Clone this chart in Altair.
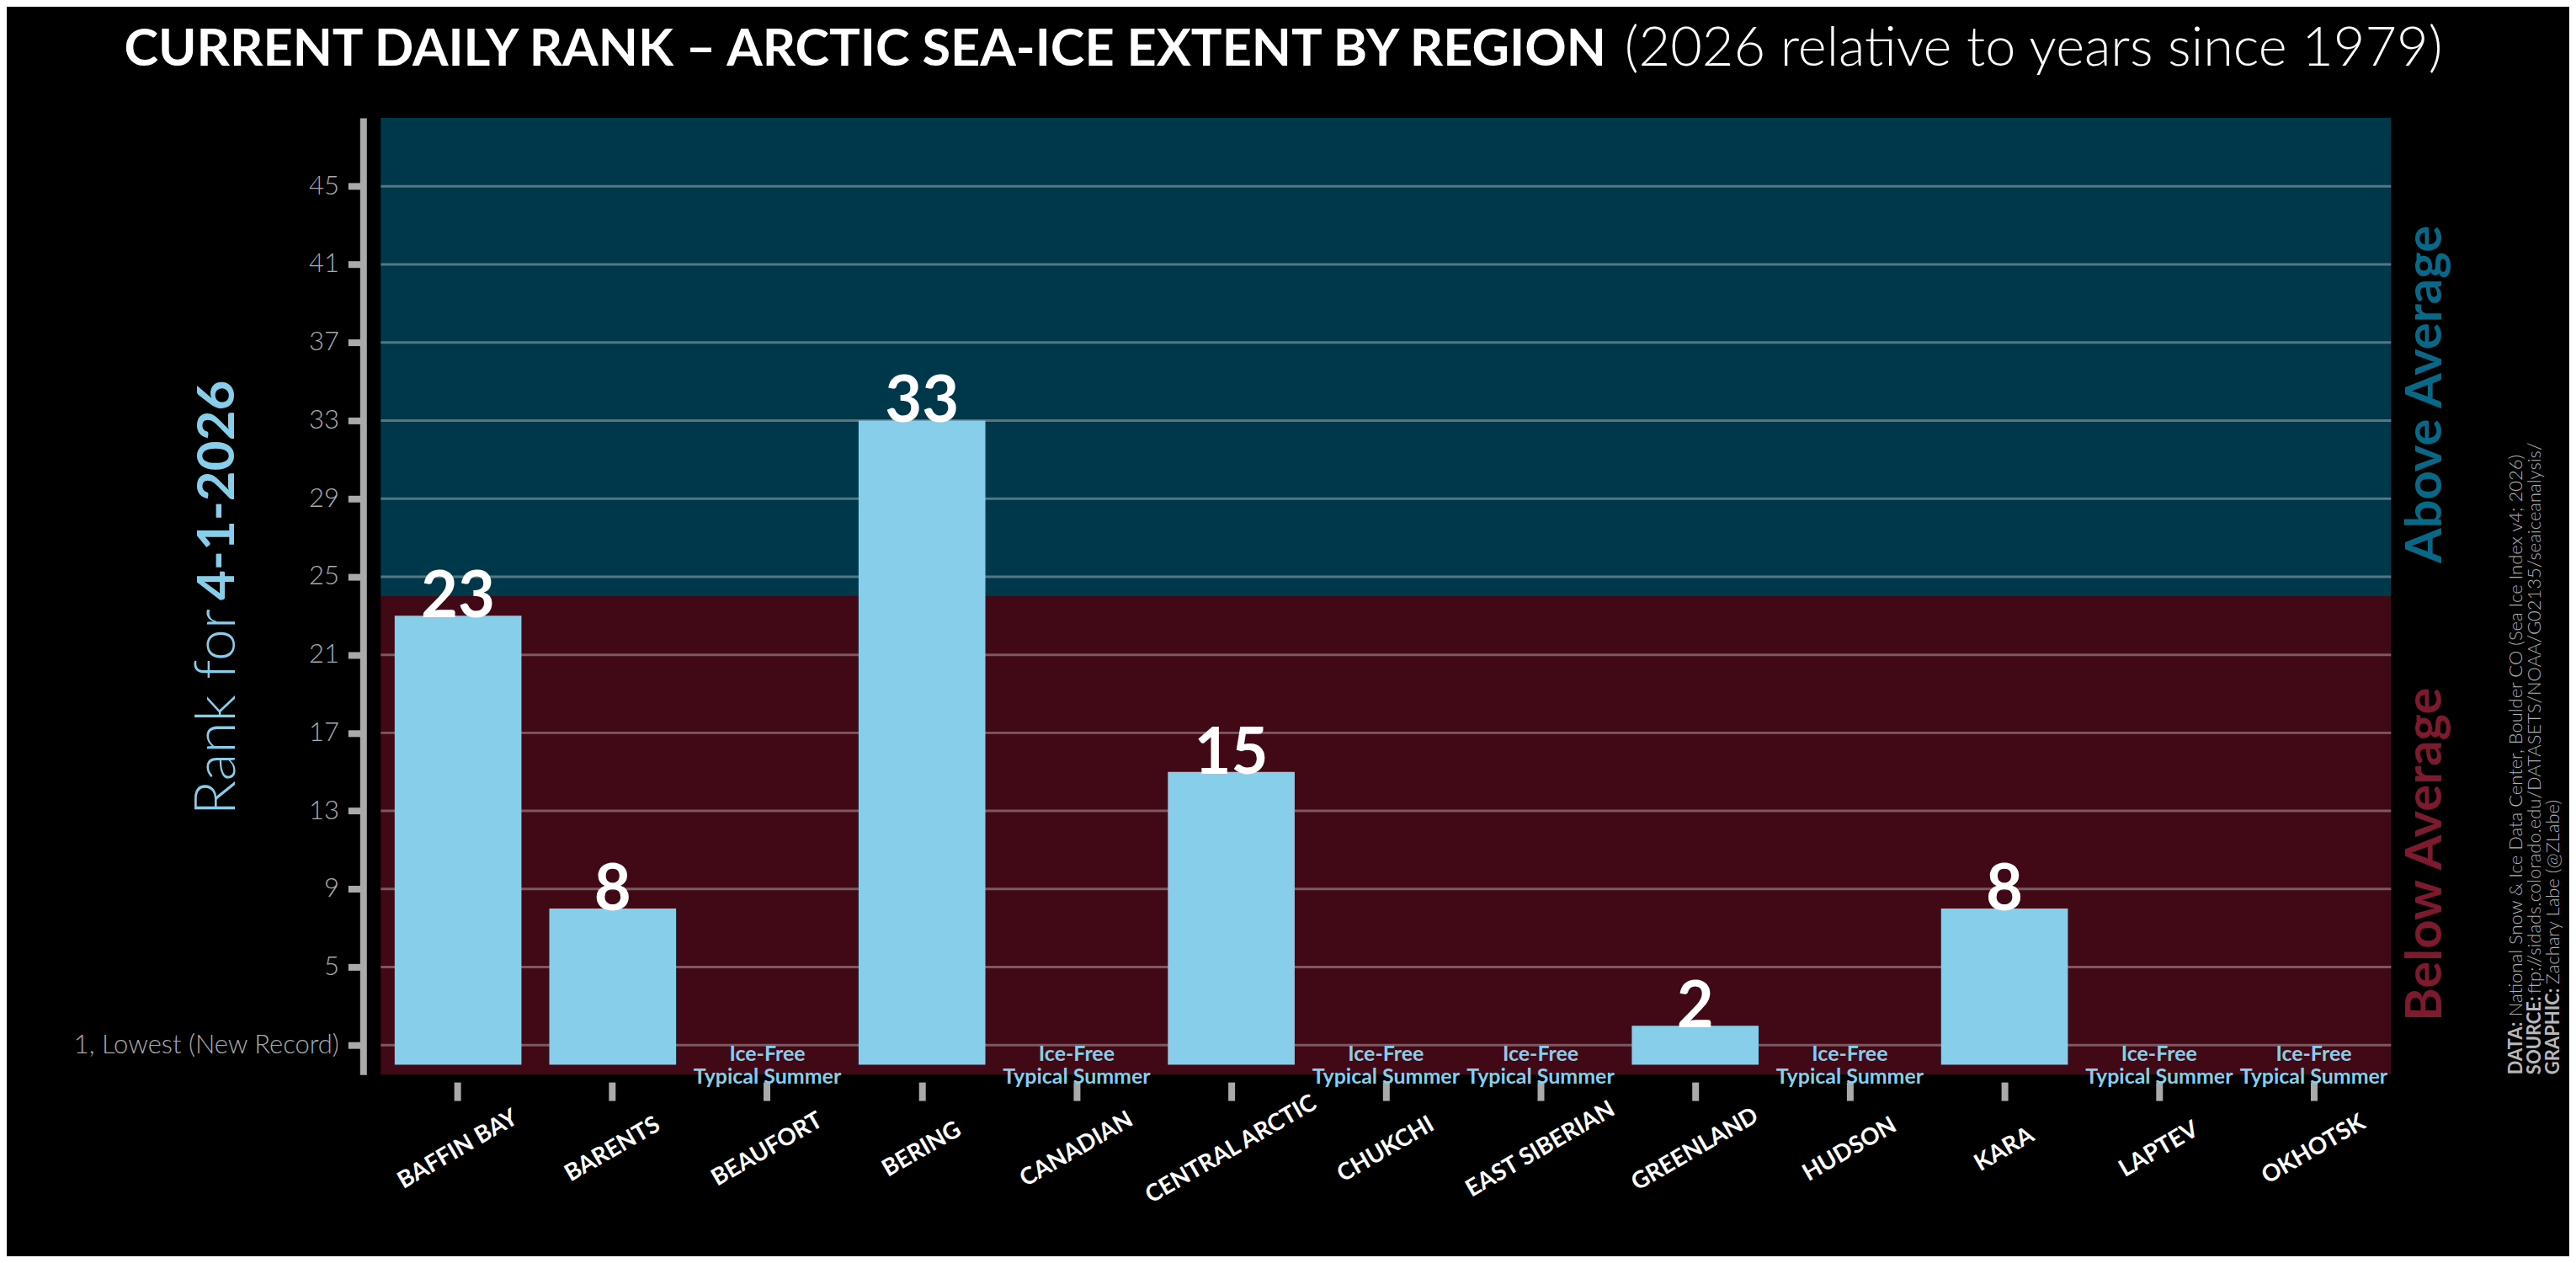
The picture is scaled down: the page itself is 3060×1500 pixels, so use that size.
import altair as alt
import pandas as pd

# ---------------- data ----------------
regions = ["BAFFIN BAY", "BARENTS", "BEAUFORT", "BERING", "CANADIAN",
           "CENTRAL ARCTIC", "CHUKCHI", "EAST SIBERIAN", "GREENLAND",
           "HUDSON", "KARA", "LAPTEV", "OKHOTSK"]
ranks = [23, 8, None, 33, None, 15, None, None, 2, None, 8, None, None]
y_ticks = [1, 5, 9, 13, 17, 21, 25, 29, 33, 37, 41, 45]
y_domain = [-0.5, 48.5]
average_rank = 24
ice_free_label = "Ice-Free\nTypical Summer"
date_label = "4-1-2026"

title_bold = "CURRENT DAILY RANK \u2013 ARCTIC SEA-ICE EXTENT BY REGION"
title_light = "(2026 relative to years since 1979)"
source_lines = [
    ("DATA:", "National Snow & Ice Data Center, Boulder CO (Sea Ice Index v4; 2026)"),
    ("SOURCE:", "ftp://sidads.colorado.edu/DATASETS/NOAA/G02135/seaiceanalysis/"),
    ("GRAPHIC:", "Zachary Labe (@ZLabe)"),
]

# ---------------- style ----------------
FONT = "Lato"
SKY = "#87CEEB"
BLUE_BG = "#00384b"
RED_BG = "#410815"
ABOVE_C = "#086887"
BELOW_C = "#7d1a2e"
GRAY = "#aaaaaa"
W, H = 2392, 1138

df = pd.DataFrame({"region": regions, "rank": ranks})
bars_df = df[df["rank"].notna()].copy()
free_df = df[df["rank"].isna()].copy()
free_df["base"] = 0
free_df["label"] = ice_free_label

x_scale = alt.Scale(domain=regions, paddingInner=0.18, paddingOuter=0.09)
y_scale = alt.Scale(domain=y_domain, nice=False, zero=False)

y_axis = alt.Axis(
    values=y_ticks,
    labelExpr="datum.value == 1 ? '1, Lowest (New Record)' : datum.label",
    grid=False, domainColor=GRAY, domainWidth=8,
    tickColor=GRAY, tickWidth=8, tickSize=18,
    labelColor=GRAY, labelFont=FONT, labelFontWeight=300, labelFontSize=31,
    labelPadding=11, labelOverlap=False, labelLimit=0, offset=21, title=None,
)
x_axis = alt.Axis(
    domain=False, tickColor=GRAY, tickWidth=8, tickSize=22, offset=9,
    labelAngle=330, labelAlign="center", labelBaseline="middle",
    labelPadding=58, labelColor="white", labelFont=FONT,
    labelFontWeight="bold", labelFontSize=28, labelOverlap=False,
    labelLimit=0, title=None,
)


def yenc(field):
    return alt.Y(field, scale=y_scale, axis=y_axis, title=None)


def xenc():
    return alt.X("region:N", scale=x_scale, axis=x_axis, sort=regions, title=None)


bg_df = pd.DataFrame({
    "y0": [average_rank, y_domain[0]],
    "y1": [y_domain[1], average_rank],
    "zone": ["above", "below"],
})
bg = alt.Chart(bg_df).mark_rect().encode(
    x=alt.value(0), x2=alt.value(W),
    y=yenc("y0:Q"), y2="y1:Q",
    color=alt.Color("zone:N", scale=alt.Scale(domain=["above", "below"],
                                              range=[BLUE_BG, RED_BG]), legend=None),
)

grid = alt.Chart(pd.DataFrame({"tick": y_ticks})).mark_rule(
    color="white", opacity=0.32, strokeWidth=3
).encode(y=yenc("tick:Q"), x=alt.value(0), x2=alt.value(W))

bars = alt.Chart(bars_df).mark_bar(color=SKY).encode(
    x=xenc(), y=yenc("rank:Q"), y2=alt.datum(0)
)

values = alt.Chart(bars_df).mark_text(
    font=FONT, fontWeight="bold", fontSize=76, color="white",
    baseline="alphabetic", align="center", dy=2
).encode(x=xenc(), y=yenc("rank:Q"), text=alt.Text("rank:Q", format="d"))

free = alt.Chart(free_df).mark_text(
    font=FONT, fontWeight="bold", fontSize=25, color=SKY, lineBreak="\n",
    lineHeight=27, baseline="bottom", align="center"
).encode(x=xenc(), y=yenc("base:Q"), text="label:N")


def note(text, x, y, **kw):
    return alt.Chart(alt.Data(values=[{"t": text}])).mark_text(font=FONT, **kw).encode(
        x=alt.value(x), y=alt.value(y), text="t:N"
    )


layers = [bg, grid, bars, values, free,
          note(title_bold, 1458, -62, fontSize=61.4, fontWeight="bold", color="white",
               align="right", baseline="alphabetic"),
          note(title_light, 1480, -62, fontSize=65, fontWeight=300, color="white",
               align="left", baseline="alphabetic"),
          note("Rank for", -194, 584, fontSize=68, fontWeight=300, color=SKY,
               align="right", baseline="middle", angle=270),
          note(date_label, -194, 574, fontSize=62, fontWeight="bold", color=SKY,
               align="left", baseline="middle", angle=270),
          note("Above Average", 2434, 329, fontSize=60, fontWeight="bold", color=ABOVE_C,
               align="center", baseline="middle", angle=270),
          note("Below Average", 2434, 876, fontSize=60, fontWeight="bold", color=BELOW_C,
               align="center", baseline="middle", angle=270),
          ]

bold_widths = [69, 96, 107]
for i, ((head, rest), bw) in enumerate(zip(source_lines, bold_widths)):
    xpos = 2541 + i * 22
    layers.append(note(head, xpos, H, fontSize=22, fontWeight="bold", color="#b8b8b8",
                       align="left", baseline="middle", angle=270))
    layers.append(note(rest, xpos, H, fontSize=22, fontWeight=300, color="#b0b0b0",
                       align="left", baseline="middle", angle=270, dx=bw))

chart = alt.layer(*layers).properties(
    width=W, height=H,
    padding={"left": 445, "top": 131, "right": 212, "bottom": 215},
    autosize=alt.AutoSizeParams(type="none"),
).configure(background="black").configure_view(strokeWidth=0)

chart.save("out.html", embed_options={"renderer": "svg", "actions": False})
